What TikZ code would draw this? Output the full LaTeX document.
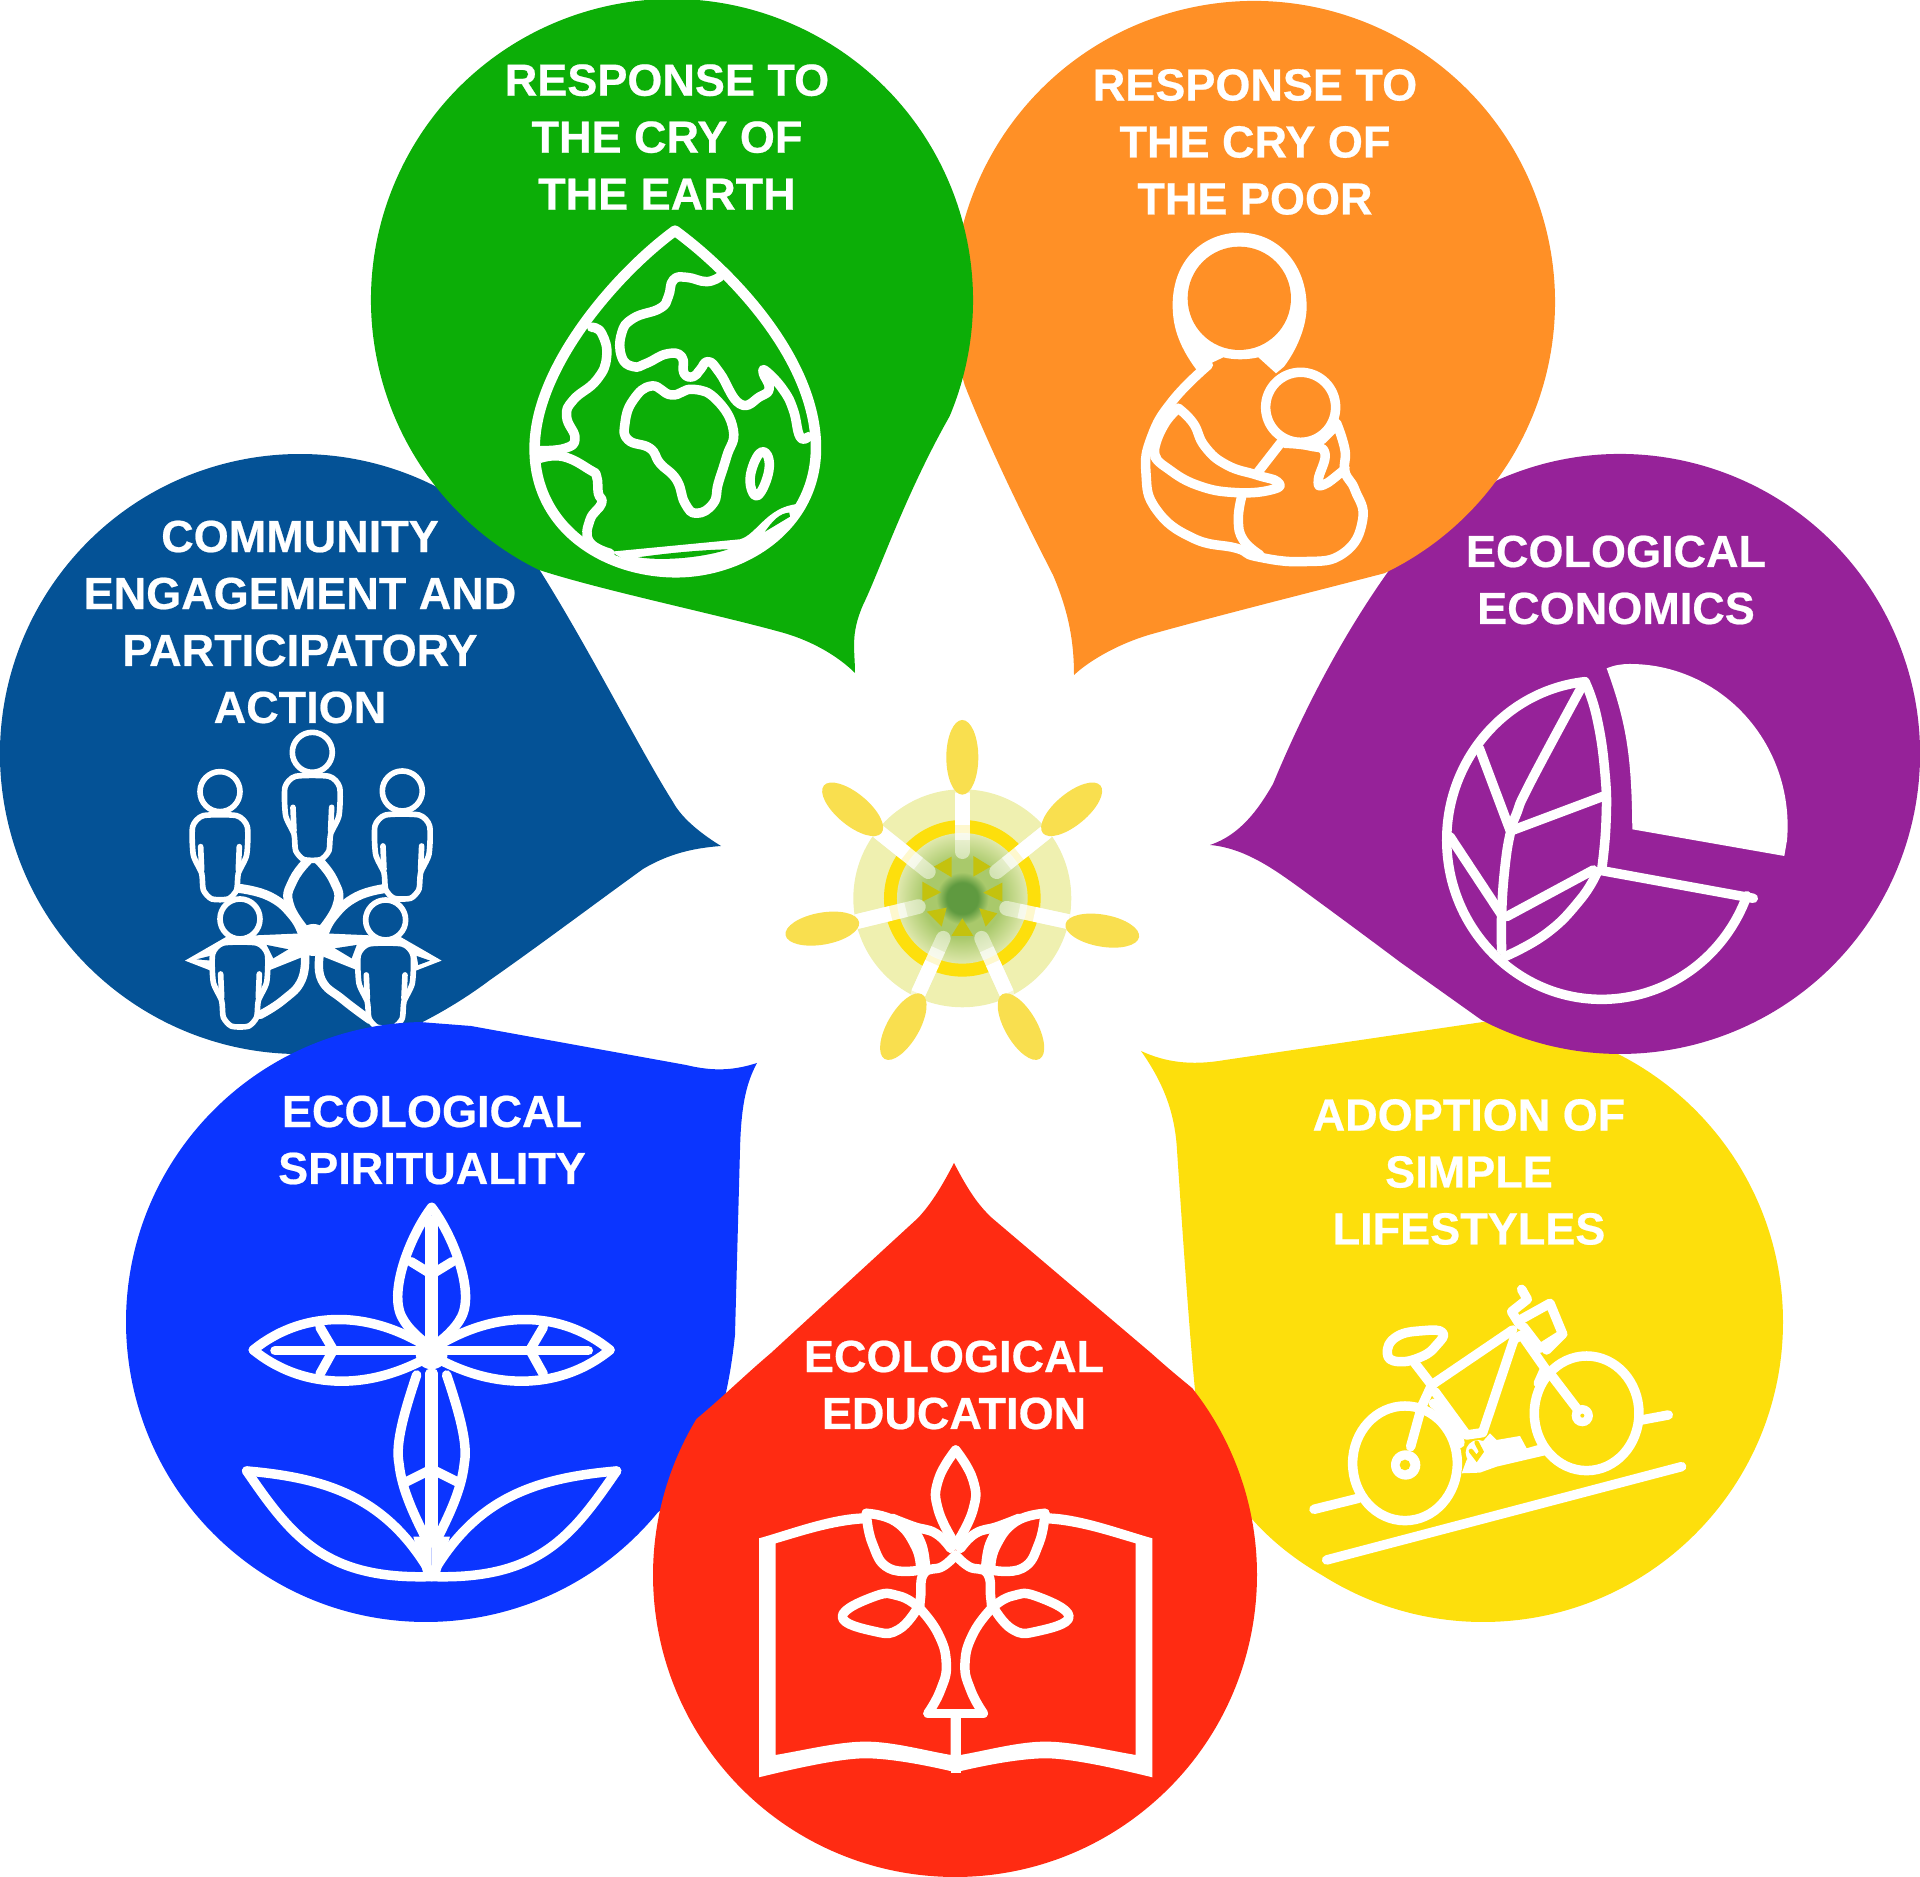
\documentclass[tikz,border=0pt]{standalone}
\usepackage{fontspec}
\setmainfont{Liberation Sans}[BoldFeatures={FakeBold=0.5}]
\usetikzlibrary{calc}
\definecolor{earthgreen}{HTML}{0CAE07}
\definecolor{poororange}{HTML}{FF9026}
\definecolor{econpurple}{HTML}{962299}
\definecolor{simpleyellow}{HTML}{FDDF0C}
\definecolor{edured}{HTML}{FF2B12}
\definecolor{spiritblue}{HTML}{0B35FF}
\definecolor{commnavy}{HTML}{045296}
\definecolor{budyellow}{HTML}{F9DF4F}
\definecolor{halopale}{HTML}{EFF0B0}
\definecolor{wedgeolive}{HTML}{C4C20E}
\definecolor{coregreen}{HTML}{5F9A40}
\definecolor{coremid}{HTML}{A9C96B}
\definecolor{coreedge}{HTML}{DFE8AC}
\pgfdeclareradialshading{coreglow}{\pgfpoint{0bp}{0bp}}{color(0bp)=(coregreen); color(6bp)=(coregreen); color(10bp)=(coremid); color(15bp)=(coremid); color(25bp)=(coreedge); color(50bp)=(coreedge)}
\tikzset{
  iconline/.style={draw=white,line width=2.7pt,line cap=round,line join=round},
  thinline/.style={draw=white,line width=1.6pt,line cap=round,line join=round},
  stemline/.style={draw=white,line width=4.2pt,line cap=round},
  labeltext/.style={text=white,font=\bfseries\fontsize{12.8}{16.2}\selectfont,align=center,inner sep=0pt},
  zoomed/.style={scale=0.3333}
}
\begin{document}
\begin{tikzpicture}[x=0.01cm,y=-0.01cm]
    \useasboundingbox (0,0) rectangle (1920,1877);
    % community
    \fill[commnavy] (300,754) ++(77.1:300) arc[start angle=77.1,end angle=297.1,radius=300] -- (539,569) .. controls (590,650) and (640,750) .. (673,802) .. controls (680,815) and (695,830) .. (721,846) .. controls (695,848) and (670,853) .. (643,869) .. controls (600,900) and (540,945) .. (490,980) .. controls (450,1010) and (410,1030) .. (367,1047) -- cycle;
    \begin{scope}[shift={(170,720)},zoomed]
        \draw[thinline,line width=2.6pt] plot[smooth,tension=.8] coordinates {(205,505) (300,530) (370,590) (400,650)};
        \draw[thinline,line width=2.6pt] plot[smooth,tension=.8] coordinates {(650,505) (560,530) (490,590) (460,650)};
        \draw[thinline,line width=2.6pt] plot[smooth,tension=.8] coordinates {(430,405) (370,480) (360,560) (430,660)};
        \draw[thinline,line width=2.6pt] plot[smooth,tension=.8] coordinates {(430,405) (490,480) (500,560) (430,660)};
        \fill[white] (430,660) circle[radius=48];
        \draw[thinline,line width=2.4pt] plot[smooth,tension=.8] coordinates {(405,700) (395,780) (340,840) (270,885)};
        \draw[thinline,line width=2.4pt] plot[smooth,tension=.8] coordinates {(450,700) (455,780) (520,840) (600,900)};
        \fill[white] (45,722) -- (170,650) -- (400,640) -- (400,710) -- (300,750) -- (130,755) -- cycle;
        \fill[white] (815,722) -- (690,650) -- (460,640) -- (460,710) -- (560,750) -- (730,755) -- cycle;
        \fill[commnavy] (290,675) -- (355,688) -- (310,715) -- cycle;
        \fill[commnavy] (560,675) -- (495,685) -- (545,715) -- cycle;
        \fill[commnavy] (80,718) -- (120,708) -- (125,722) -- cycle;
        \fill[commnavy] (780,722) -- (740,708) -- (745,735) -- cycle;
        \foreach \hx/\hy in {150/215,427/97,697/213,210/597,647/600} {
            \begin{scope}[shift={(\hx,\hy)}]
                \filldraw[thinline,fill=commnavy] (0,0) circle[radius=60];
                \filldraw[thinline,fill=commnavy] plot[smooth cycle,tension=.4] coordinates {(-50,72) (-82,105) (-80,190) (-55,245) (-50,295) (-25,322) (25,322) (50,295) (55,245) (80,190) (82,105) (50,72)};
                \draw[thinline] (-58,165) -- (-55,235);
                \draw[thinline] (58,165) -- (55,235);
            \end{scope}
        }
    \end{scope}
    % yellow
    \fill[simpleyellow] (1483,1322) ++(270:300) arc[start angle=270,end angle=482.2,radius=300] .. controls (1260,1540) and (1205,1480) .. (1195,1390) .. controls (1190,1340) and (1183,1240) .. (1177,1150) .. controls (1175,1115) and (1165,1085) .. (1141,1051) .. controls (1165,1062) and (1190,1066) .. (1225,1060) -- cycle;
    \begin{scope}[shift={(1290,1270)},zoomed]
        \draw[iconline] (345,580) ellipse[x radius=157,y radius=172];
        \draw[iconline] (890,430) ellipse[x radius=157,y radius=172];
        \draw[iconline] (110,870) -- (1175,590);
        \draw[iconline] (72,718) -- (205,685);
        \draw[iconline] (1055,450) -- (1135,435);
        \draw[iconline] plot[smooth cycle,tension=.8] coordinates {(458,188) (400,182) (320,200) (292,250) (325,275) (395,260) (440,225)};
        \draw[iconline] (375,280) -- (425,345) -- (668,180);
        \draw[iconline] (425,345) -- (395,410) -- (362,530);
        \draw[iconline] (435,365) -- (530,495) -- (578,488) -- (672,208);
        \draw[iconline] (430,400) .. controls (470,430) and (500,470) .. (510,520);
        \draw[iconline] (672,208) -- (695,195) -- (765,295) -- (745,340);
        \draw[iconline] (780,310) -- (860,415);
        \draw[iconline] (695,58) -- (712,88) -- (665,125) -- (690,165);
        \draw[iconline] (690,150) -- (780,100) -- (818,192) -- (770,240);
        \draw[iconline] (700,170) -- (750,235) -- (818,192);
        \fill[white] (347,585) circle[radius=44];
        \fill[simpleyellow] (345,585) circle[radius=16];
        \fill[white] (877,437) circle[radius=32];
        \fill[simpleyellow] (877,437) circle[radius=6];
        \fill[white] (600,490) -- (620,510) -- (690,498) -- (710,535) -- (745,525) -- (770,555) -- (620,590) -- (570,608) -- (515,610) -- (530,570) -- cycle;
        \fill[white] (565,548) circle[radius=38];
        \draw[simpleyellow,line width=1.3pt,line cap=round] (543,543) -- (560,565) -- (574,545) -- (560,518);
    \end{scope}
    % purple
    \fill[econpurple] (1620,754) ++(245.7:300) arc[start angle=245.7,end angle=477.4,radius=300] -- (1400,962) .. controls (1360,932) and (1330,910) .. (1300,888) .. controls (1275,870) and (1245,848) .. (1210,845) .. controls (1240,835) and (1258,810) .. (1273,784) .. controls (1310,695) and (1350,625) .. (1390,569) -- cycle;
    \begin{scope}[shift={(1400,640)},zoomed]
        \fill[white] (620,85) .. controls (645,75) and (665,72) .. (690,72) arc[start angle=270,end angle=365,x radius=473,y radius=486] -- (1153,648) -- (697,568) .. controls (695,350) and (680,250) .. (620,85) -- cycle;
        \draw[iconline] (555,125) arc[start angle=263.8,end angle=20.5,x radius=465,y radius=478];
        \draw[iconline] (1060,775) -- (605,692);
        \draw[iconline] plot[smooth,tension=.8] coordinates {(605,690) (618,550) (615,400) (590,230) (555,125)};
        \draw[iconline] plot[smooth,tension=.8] coordinates {(590,700) (540,780) (440,880) (315,950)};
        \draw[iconline] plot[smooth,tension=.8] coordinates {(305,930) (305,820) (315,680) (332,575) (350,520) (390,430) (540,150)};
        \draw[iconline] (238,325) -- (330,570);
        \draw[iconline] (150,590) -- (305,825);
        \draw[iconline] (340,570) -- (612,468);
        \draw[iconline] (320,830) -- (580,690);
    \end{scope}
    % orange
    \fill[poororange] (1254,302) ++(164:301) arc[start angle=164,end angle=424.3,radius=301] .. controls (1320,590) and (1220,615) .. (1152,634) .. controls (1120,643) and (1090,660) .. (1074,675) .. controls (1074,640) and (1068,610) .. (1053,575) .. controls (1030,530) and (990,450) .. cycle;
    \begin{scope}[shift={(1110,210)},zoomed]
        \fill[white] (260,480) .. controls (200,400) and (188,340) .. (188,285) .. controls (188,150) and (280,68) .. (390,68) .. controls (510,68) and (590,170) .. (590,290) .. controls (590,350) and (560,420) .. (522,470) -- (498,490) -- (445,442) .. controls (410,450) and (370,450) .. (340,442) -- cycle;
        \fill[poororange] (388,265) circle[radius=155];
        \draw[iconline] plot[smooth,tension=.8] coordinates {(295,465) (190,570) (125,680) (108,790) (140,900) (250,985) (380,1015) (440,1040) (580,1055) (700,1030) (758,930) (735,840) (705,785) (705,720) (680,640)};
        \draw[iconline] (572,592) circle[radius=105];
        \draw[iconline] plot[smooth,tension=.8] coordinates {(205,595) (250,640) (285,710) (350,765) (440,795) (502,815) (490,838) (380,848) (260,825) (165,770) (135,740)};
        \draw[iconline] plot[smooth,tension=.8] coordinates {(205,595) (165,640) (135,710) (140,745)};
        \draw[iconline] (515,695) -- (445,785);
        \draw[iconline] plot[smooth,tension=.8] coordinates {(525,700) (600,708) (645,730) (625,810) (640,825) (690,790) (705,775)};
        \draw[iconline] (635,690) -- (675,650);
        \draw[iconline] plot[smooth,tension=.8] coordinates {(395,860) (385,930) (400,990) (450,1035)};
    \end{scope}
    % green
    \fill[earthgreen] (672,300) ++(116.3:301) arc[start angle=116.3,end angle=382.7,radius=301] .. controls (905,495) and (880,570) .. (863,605) .. controls (850,635) and (855,650) .. (855,673) .. controls (840,658) and (815,642) .. (784,633) .. controls (720,615) and (600,590) .. cycle;
    \begin{scope}[shift={(500,200)},zoomed]
        \draw[iconline,line width=3pt] (525,92) .. controls (700,220) and (945,480) .. (948,740) .. controls (950,980) and (730,1118) .. (525,1117) .. controls (310,1115) and (100,980) .. (104,740) .. controls (107,500) and (350,220) .. (525,92) -- cycle;
        \draw[iconline] plot[smooth,tension=.8] coordinates {(660,230) (620,245) (560,232) (520,240) (505,290) (480,325) (400,355) (365,400) (365,470) (400,500) (440,490) (500,462) (545,470) (552,520) (580,530) (600,510) (625,485) (660,520) (720,612) (780,590) (808,565) (790,520) (800,515) (850,570) (880,630) (900,710) (925,710)};
        \draw[iconline] plot[smooth cycle,tension=.8] coordinates {(455,558) (515,585) (580,568) (650,600) (700,690) (680,770) (655,850) (640,910) (590,940) (555,910) (530,840) (480,790) (450,745) (385,720) (375,670) (400,600)};
        \draw[iconline] plot[smooth cycle,tension=.8] coordinates {(787,755) (808,800) (780,880) (755,870) (755,810)};
        \draw[iconline] plot[smooth,tension=.8] coordinates {(275,382) (305,400) (320,470) (290,540) (220,600) (200,650) (225,715) (195,745) (120,752)};
        \draw[iconline] plot[smooth,tension=.8] coordinates {(120,775) (190,770) (270,810) (290,830) (295,880) (305,910) (270,960) (268,1025) (330,1060)};
        \fill[white] (335,1055) -- (720,1018) .. controls (770,1005) and (800,920) .. (895,912) -- (925,885) .. controls (850,1040) and (700,1118) .. (525,1122) .. controls (450,1115) and (390,1095) .. (335,1055) -- cycle;
        \fill[earthgreen] (415,1072) .. controls (500,1085) and (620,1070) .. (685,1048) .. controls (600,1050) and (500,1060) .. (415,1072) -- cycle;
        \fill[earthgreen] (795,995) .. controls (820,960) and (840,940) .. (868,938) -- (870,950) -- cycle;
    \end{scope}
    % blue
    \fill[spiritblue] (426,1322) ++(39.4:300) arc[start angle=39.4,end angle=268.9,radius=300] -- (471,1026) -- (686,1065) .. controls (715,1072) and (735,1070) .. (757,1063) .. controls (745,1085) and (741,1110) .. (740,1150) -- (735,1335) .. controls (725,1430) and (700,1480) .. cycle;
    \begin{scope}[shift={(230,1190)},zoomed]
        \foreach \m in {1,-1} {
            \begin{scope}[shift={(605,0)},xscale=\m]
                \draw[iconline] (0,52) .. controls (60,130) and (130,300) .. (90,380) .. controls (70,420) and (30,450) .. (5,470);
                \draw[iconline] (5,90) -- (5,490);
                \draw[iconline] (62,215) -- (5,250);
                \draw[iconline] (535,480) .. controls (400,370) and (200,345) .. (-10,485);
                \draw[iconline] (535,480) .. controls (400,590) and (200,615) .. (-10,490);
                \draw[iconline] (20,482) -- (470,482);
                \draw[iconline] (335,412) -- (295,480) -- (335,552);
                \draw[iconline] (45,555) .. controls (80,660) and (110,760) .. (98,820) .. controls (90,900) and (50,980) .. (15,1050);
                \draw[iconline] (5,550) -- (5,1060);
                \draw[iconline] (85,880) -- (5,840);
                \draw[iconline] (555,843) .. controls (300,865) and (130,930) .. (0,1155);
                \draw[iconline] (555,843) .. controls (420,1040) and (320,1170) .. (0,1160);
                \fill[white] (0,1040) -- (55,1040) -- (25,1150) -- (0,1165) -- cycle;
            \end{scope}
        }
        \fill[white] (605,490) circle[radius=48];
    \end{scope}
    % red
    \fill[edured] (955,1575) ++(-38.2:302) arc[start angle=-38.2,end angle=211.1,radius=302] .. controls (725,1395) and (745,1375) .. (771,1353) -- (918,1218) .. controls (930,1205) and (940,1190) .. (954,1163) .. controls (968,1190) and (978,1205) .. (992,1218) -- (1151,1353) .. controls (1170,1370) and (1180,1378) .. cycle;
    \begin{scope}[shift={(750,1430)},zoomed]
        \fill[white] (602,850) rectangle (632,1030);
        \foreach \m in {1,-1} {
            \begin{scope}[shift={(617,0)},xscale=\m]
                \fill[white] (0,1027) .. controls (90,1005) and (200,985) .. (270,985) .. controls (350,985) and (500,1020) .. (590,1042) -- (590,325) .. controls (500,300) and (370,250) .. (270,250) -- (270,280) .. controls (370,285) and (470,320) .. (540,340) -- (540,975) .. controls (450,960) and (350,935) .. (270,935) .. controls (190,935) and (100,960) .. (15,975) -- (15,860) -- (0,860) -- cycle;
                \draw[iconline] plot[smooth,tension=.8] coordinates {(83,850) (45,780) (28,700) (53,610) (108,535)};
                \draw[iconline] (-5,850) -- (83,850);
                \draw[iconline] plot[smooth,tension=.8] coordinates {(0,375) (40,410) (95,430) (105,500) (108,535)};
                \draw[iconline] plot[smooth,tension=.8] coordinates {(105,420) (200,415) (250,340) (268,250)};
                \draw[iconline] plot[smooth,tension=.8] coordinates {(268,250) (180,275) (120,350) (105,420)};
                \draw[iconline] plot[smooth,tension=.8] coordinates {(190,265) (125,290) (60,310) (15,355)};
                \draw[iconline] plot[smooth,tension=.8] coordinates {(125,300) (100,350) (90,415)};
                \draw[iconline] plot[smooth,tension=.8] coordinates {(120,525) (170,498) (240,498) (340,560) (240,605) (170,598) (115,535)};
                \draw[iconline] plot[smooth,tension=.8] coordinates {(0,60) (52,150) (52,240) (0,345)};
            \end{scope}
        }
    \end{scope}
    % center flower
    \begin{scope}[shift={(740,680)},zoomed]
        \fill[halopale] (667,655) circle[radius=327];
        \fill[simpleyellow] (667,655) circle[radius=235];
        \shade[shading=coreglow] (667,655) circle[radius=196];
        \fill[wedgeolive] (635,530) -- (635,592) -- (582,560) -- cycle;
        \fill[wedgeolive] (700,528) -- (752,560) -- (700,590) -- cycle;
        \fill[wedgeolive] (787,608) -- (787,665) -- (730,638) -- cycle;
        \fill[wedgeolive] (718,685) -- (772,700) -- (737,740) -- cycle;
        \fill[wedgeolive] (667,715) -- (700,768) -- (634,768) -- cycle;
        \fill[wedgeolive] (560,695) -- (620,683) -- (605,740) -- cycle;
        \fill[wedgeolive] (547,605) -- (603,637) -- (547,665) -- cycle;
        \foreach \ox/\oy/\ix/\iy in {667/340/667/515,920/455/770/575,415/455/565/575,985/725/800/685,350/725/535/680,800/940/725/775,535/940/610/775} {
            \draw[stemline,opacity=.5] (\ox,\oy) -- (\ix,\iy);
            \draw[stemline,line cap=butt,opacity=.6] (\ox,\oy) -- ($(\ox,\oy)!0.8!(\ix,\iy)$);
            \draw[stemline,line cap=butt] (\ox,\oy) -- ($(\ox,\oy)!0.55!(\ix,\iy)$);
        }
        \foreach \bx/\by/\ba in {667/232/90,995/388/39.6,338/388/-39.6,1087/752/-10,247/746/10,843/1040/-60,490/1040/60} {
            \fill[budyellow] (\bx,\by) ellipse[x radius=112,y radius=48,rotate=\ba];
        }
    \end{scope}
    % labels
    \node[labeltext] (earthlabel) at (667,137) {RESPONSE TO\\THE CRY OF\\THE EARTH};
    \node[labeltext] (poorlabel) at (1255,142) {RESPONSE TO\\THE CRY OF\\THE POOR};
    \node[labeltext] (econlabel) at (1616,580) {ECOLOGICAL\\ECONOMICS};
    \node[labeltext] (simplelabel) at (1469,1172) {ADOPTION OF\\SIMPLE\\LIFESTYLES};
    \node[labeltext] (edulabel) at (954,1385) {ECOLOGICAL\\EDUCATION};
    \node[labeltext] (spiritlabel) at (432,1140) {ECOLOGICAL\\SPIRITUALITY};
    \node[labeltext] (commlabel) at (300,622) {COMMUNITY\\ENGAGEMENT AND\\PARTICIPATORY\\ACTION};
\end{tikzpicture}
\end{document}
